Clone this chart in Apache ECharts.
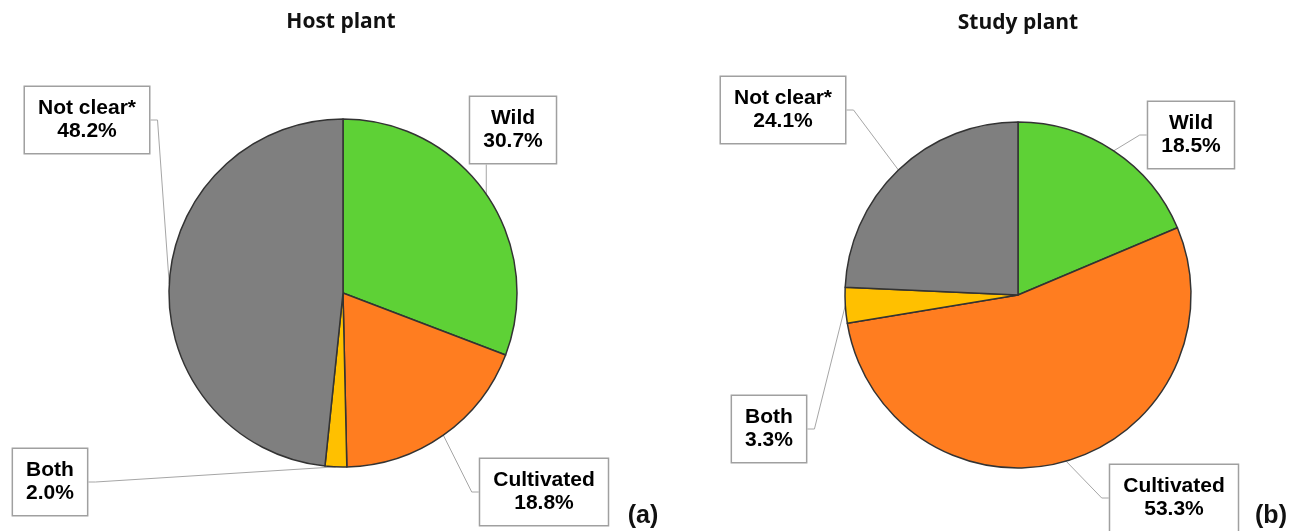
<!DOCTYPE html>
<html>
<head>
<meta charset="utf-8">
<script src="https://cdn.jsdelivr.net/npm/echarts@6/dist/echarts.min.js"></script>
<style>
html,body{margin:0;padding:0;background:#fff;}
#chart{width:1296px;height:531px;}
</style>
</head>
<body>
<div id="chart"></div>
<script>
const categories = ['Wild', 'Cultivated', 'Both', 'Not clear*'];
const hostValues = [30.7, 18.8, 2.0, 48.2];
const studyValues = [18.5, 53.3, 3.3, 24.1];
const titles = ['Host plant', 'Study plant'];
const panelTags = ['(a)', '(b)'];

const colors = ['#5ED136', '#FF7D20', '#FFC000', '#7F7F7F'];

// label box centres (layout only)
const labelPos = [
  { 'Wild': [513, 130], 'Cultivated': [544, 492], 'Both': [50, 482], 'Not clear*': [87, 120] },
  { 'Wild': [1191, 135], 'Cultivated': [1174, 498], 'Both': [769, 429], 'Not clear*': [783, 110] }
];

function makeData(vals) {
  return categories.map((c, i) => ({ name: c, value: vals[i], itemStyle: { color: colors[i] } }));
}

function makeSeries(idx, vals, center, radius) {
  return {
    type: 'pie',
    center: center,
    radius: radius,
    startAngle: 90,
    clockwise: true,
    silent: true,
    animation: false,
    itemStyle: { borderColor: '#333', borderWidth: 1.5 },
    label: {
      show: true,
      position: 'outside',
      formatter: p => p.name + '\n' + p.value.toFixed(1) + '%',
      fontFamily: 'Liberation Sans, Arial, sans-serif',
      fontWeight: 'bold',
      fontSize: 21,
      lineHeight: 23,
      color: '#000',
      backgroundColor: '#fff',
      borderColor: '#a0a0a0',
      borderWidth: 1.5,
      padding: [10, 13],
      align: 'center'
    },
    labelLine: {
      show: true,
      length: 15,
      length2: 10,
      smooth: false,
      lineStyle: { color: '#a6a6a6', width: 1 }
    },
    labelLayout: function (params) {
      const name = categories[params.dataIndex];
      const pos = labelPos[idx][name];
      const w = params.labelRect.width, h = params.labelRect.height;
      const left = pos[0] - w / 2, right = pos[0] + w / 2;
      const top = pos[1] - h / 2, bottom = pos[1] + h / 2;
      const anchor = (params.labelLinePoints && params.labelLinePoints[0]) || [pos[0], pos[1]];
      let pts;
      if (anchor[0] >= left && anchor[0] <= right) {
        const ey = anchor[1] > pos[1] ? bottom : top;
        pts = [anchor, [anchor[0], ey], [anchor[0], ey]];
      } else if (anchor[0] > right) {
        pts = [anchor, [right + 7, pos[1]], [right, pos[1]]];
      } else {
        pts = [anchor, [left - 7, pos[1]], [left, pos[1]]];
      }
      return { x: pos[0], y: pos[1], align: 'center', verticalAlign: 'middle', labelLinePoints: pts };
    },
    data: makeData(vals)
  };
}

const chart = echarts.init(document.getElementById('chart'), null, { renderer: 'canvas' });
chart.setOption({
  backgroundColor: '#fff',
  animation: false,
  graphic: [
    { type: 'text', x: 341, y: 22, style: { text: titles[0], fill: '#111', font: 'bold 21px "Open Sans", sans-serif', textAlign: 'center', textVerticalAlign: 'middle' } },
    { type: 'text', x: 1018, y: 23, style: { text: titles[1], fill: '#111', font: 'bold 21px "Open Sans", sans-serif', textAlign: 'center', textVerticalAlign: 'middle' } },
    { type: 'text', x: 643, y: 516, style: { text: panelTags[0], fill: '#111', font: 'bold 25px "Liberation Sans", Arial, sans-serif', textAlign: 'center', textVerticalAlign: 'middle' } },
    { type: 'text', x: 1271, y: 516, style: { text: panelTags[1], fill: '#111', font: 'bold 25px "Liberation Sans", Arial, sans-serif', textAlign: 'center', textVerticalAlign: 'middle' } }
  ],
  series: [
    makeSeries(0, hostValues, [343, 293], 174),
    makeSeries(1, studyValues, [1018, 295], 173)
  ]
});
</script>
</body>
</html>
